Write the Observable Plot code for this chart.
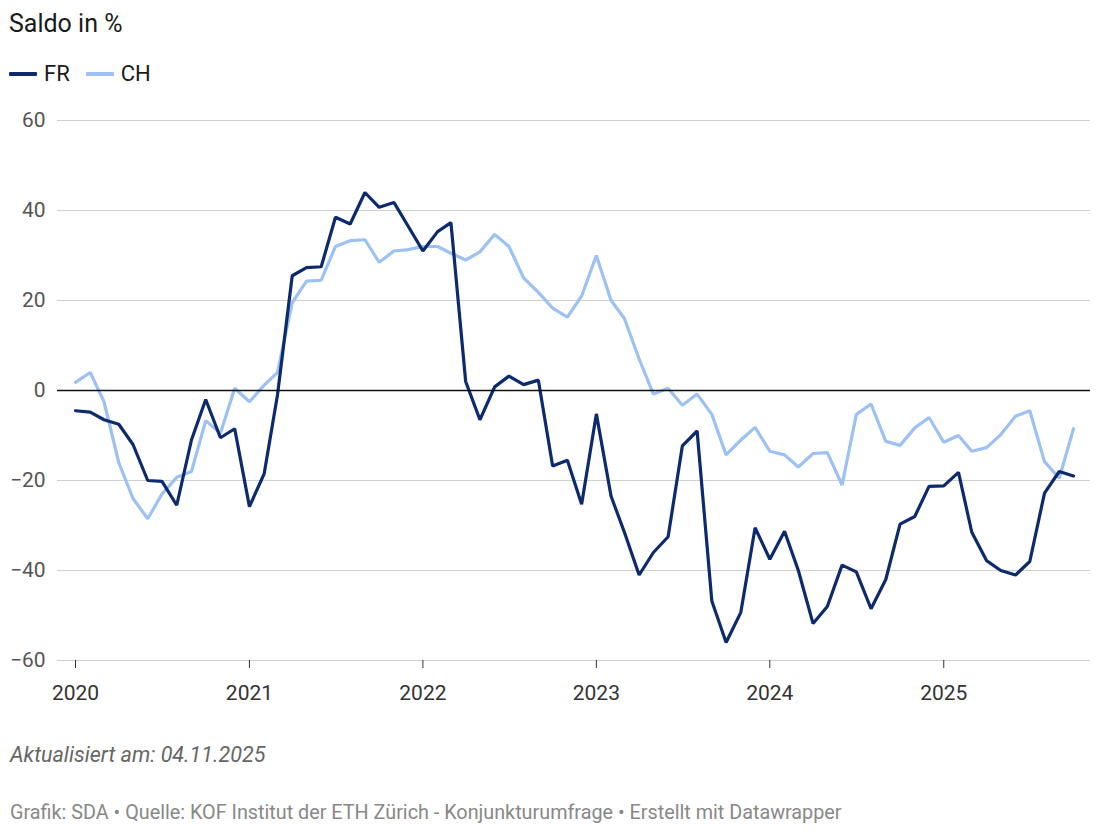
<!DOCTYPE html>
<html>
<head>
<meta charset="utf-8">
<script src="https://cdn.jsdelivr.net/npm/d3@7"></script>
<script src="https://cdn.jsdelivr.net/npm/@observablehq/plot@0.6"></script>
<style>
  body { margin: 0; background: #fff; font-family: Roboto, "Noto Sans", sans-serif; width: 1100px; height: 834px; position: relative; overflow: hidden; }
  .abs { position: absolute; white-space: nowrap; }
  #title { left: 9px; top: 11px; font-size: 25px; line-height: 25px; color: #1a1a1a; }
  #legend { left: 9px; top: 63px; font-size: 22px; line-height: 22px; color: #1a1a1a; display: flex; align-items: center; }
  .sw { display: inline-block; width: 28px; height: 3.5px; margin-right: 7px; border-radius: 1px; }
  .item { display: flex; align-items: center; margin-right: 16px; }
  #chart { left: 0; top: 100px; }
  #updated { left: 10px; top: 744px; font-size: 21.5px; line-height: 21.5px; font-style: italic; color: #666; }
  #footer { left: 10px; top: 803px; font-size: 19.8px; line-height: 19.8px; color: #888; }
</style>
</head>
<body>
<div id="title" class="abs">Saldo in %</div>
<div id="legend" class="abs"></div>
<div id="chart" class="abs"></div>
<div id="updated" class="abs">Aktualisiert am: 04.11.2025</div>
<div id="footer" class="abs">Grafik: SDA • Quelle: KOF Institut der ETH Zürich - Konjunkturumfrage • Erstellt mit Datawrapper</div>
<script>
const months = [
  "2020-01","2020-02","2020-03","2020-04","2020-05","2020-06","2020-07","2020-08","2020-09","2020-10","2020-11","2020-12",
  "2021-01","2021-02","2021-03","2021-04","2021-05","2021-06","2021-07","2021-08","2021-09","2021-10","2021-11","2021-12",
  "2022-01","2022-02","2022-03","2022-04","2022-05","2022-06","2022-07","2022-08","2022-09","2022-10","2022-11","2022-12",
  "2023-01","2023-02","2023-03","2023-04","2023-05","2023-06","2023-07","2023-08","2023-09","2023-10","2023-11","2023-12",
  "2024-01","2024-02","2024-03","2024-04","2024-05","2024-06","2024-07","2024-08","2024-09","2024-10","2024-11","2024-12",
  "2025-01","2025-02","2025-03","2025-04","2025-05","2025-06","2025-07","2025-08","2025-09","2025-10"
];
const FR = [
  -4.5, -4.8, -6.5, -7.5, -12, -20, -20.2, -25.5, -11, -2, -10.5, -8.5,
  -25.8, -18.5, -1, 25.5, 27.3, 27.5, 38.5, 37, 44, 40.7, 41.8, 36.5,
  31, 35.3, 37.3, 2, -6.5, 0.8, 3.2, 1.3, 2.3, -16.8, -15.5, -25.3,
  -5.2, -23.5, -31.5, -41, -36, -32.5, -12.3, -9, -46.8, -56, -49.3, -30.5,
  -37.5, -31.3, -40, -51.8, -48, -38.8, -40.3, -48.5, -42, -29.7, -28, -21.3,
  -21.2, -18.2, -31.5, -37.8, -40, -41, -38, -22.8, -18, -19
];
const CH = [
  1.8, 4, -2.5, -16, -24, -28.5, -23, -19.3, -18, -6.7, -9.5, 0.5,
  -2.5, 1.2, 4, 19.5, 24.3, 24.5, 32, 33.3, 33.5, 28.5, 31, 31.3,
  32, 32, 30.5, 29, 30.8, 34.7, 32, 25, 21.8, 18.3, 16.3, 21,
  30, 20, 16, 7, -0.8, 0.5, -3.3, -0.8, -5.3, -14.3, -11, -8.2,
  -13.5, -14.3, -17, -14, -13.8, -21, -5.3, -3, -11.3, -12.2, -8.3, -6,
  -11.5, -10, -13.5, -12.7, -9.8, -5.7, -4.5, -15.8, -19.5, -8.5
];
const seriesNames = ["FR", "CH"];
const seriesColors = ["#0c2a6c", "#9dc1f3"];
const yTicks = [-60, -40, -20, 0, 20, 40, 60];
const yearTicks = ["2020-01", "2021-01", "2022-01", "2023-01", "2024-01", "2025-01"];

const parse = d3.utcParse("%Y-%m");
const rows = [];
months.forEach((m, i) => {
  rows.push({date: parse(m), value: FR[i], series: "FR"});
  rows.push({date: parse(m), value: CH[i], series: "CH"});
});

// legend
const legend = document.getElementById("legend");
seriesNames.forEach((s, i) => {
  const it = document.createElement("span");
  it.className = "item";
  it.innerHTML = `<span class="sw" style="background:${seriesColors[i]}"></span>${s}`;
  legend.appendChild(it);
});

const chart = Plot.plot({
  width: 1100,
  height: 612,
  marginTop: 20,
  marginBottom: 52,
  marginLeft: 57,
  marginRight: 10,
  style: {fontFamily: "Roboto, sans-serif", background: "transparent"},
  x: {type: "utc", domain: [parse(months[0]), parse(months[months.length - 1])], insetLeft: 18, insetRight: 17},
  y: {domain: [-60, 60]},
  color: {domain: seriesNames, range: seriesColors},
  marks: [
    Plot.ruleY(yTicks.filter(d => d !== 0), {stroke: "#d0d0d0", strokeWidth: 1}),
    Plot.axisY({ticks: yTicks, tickSize: 0, tickPadding: 12, fontSize: 21, fill: "#555", label: null}),
    Plot.axisX({ticks: yearTicks.map(parse), tickFormat: "%Y", tickSize: 8, tickPadding: 17, fontSize: 21, fill: "#333", stroke: "#333", label: null}),
    Plot.line(rows.filter(d => d.series === "CH"), {x: "date", y: "value", stroke: "series", strokeWidth: 3.2, strokeLinejoin: "miter", curve: "linear"}),
    Plot.line(rows.filter(d => d.series === "FR"), {x: "date", y: "value", stroke: "series", strokeWidth: 3.2, strokeLinejoin: "miter", curve: "linear"}),
    Plot.ruleY([0], {stroke: "#111", strokeWidth: 1.3})
  ]
});
document.getElementById("chart").appendChild(chart);
</script>
</body>
</html>
